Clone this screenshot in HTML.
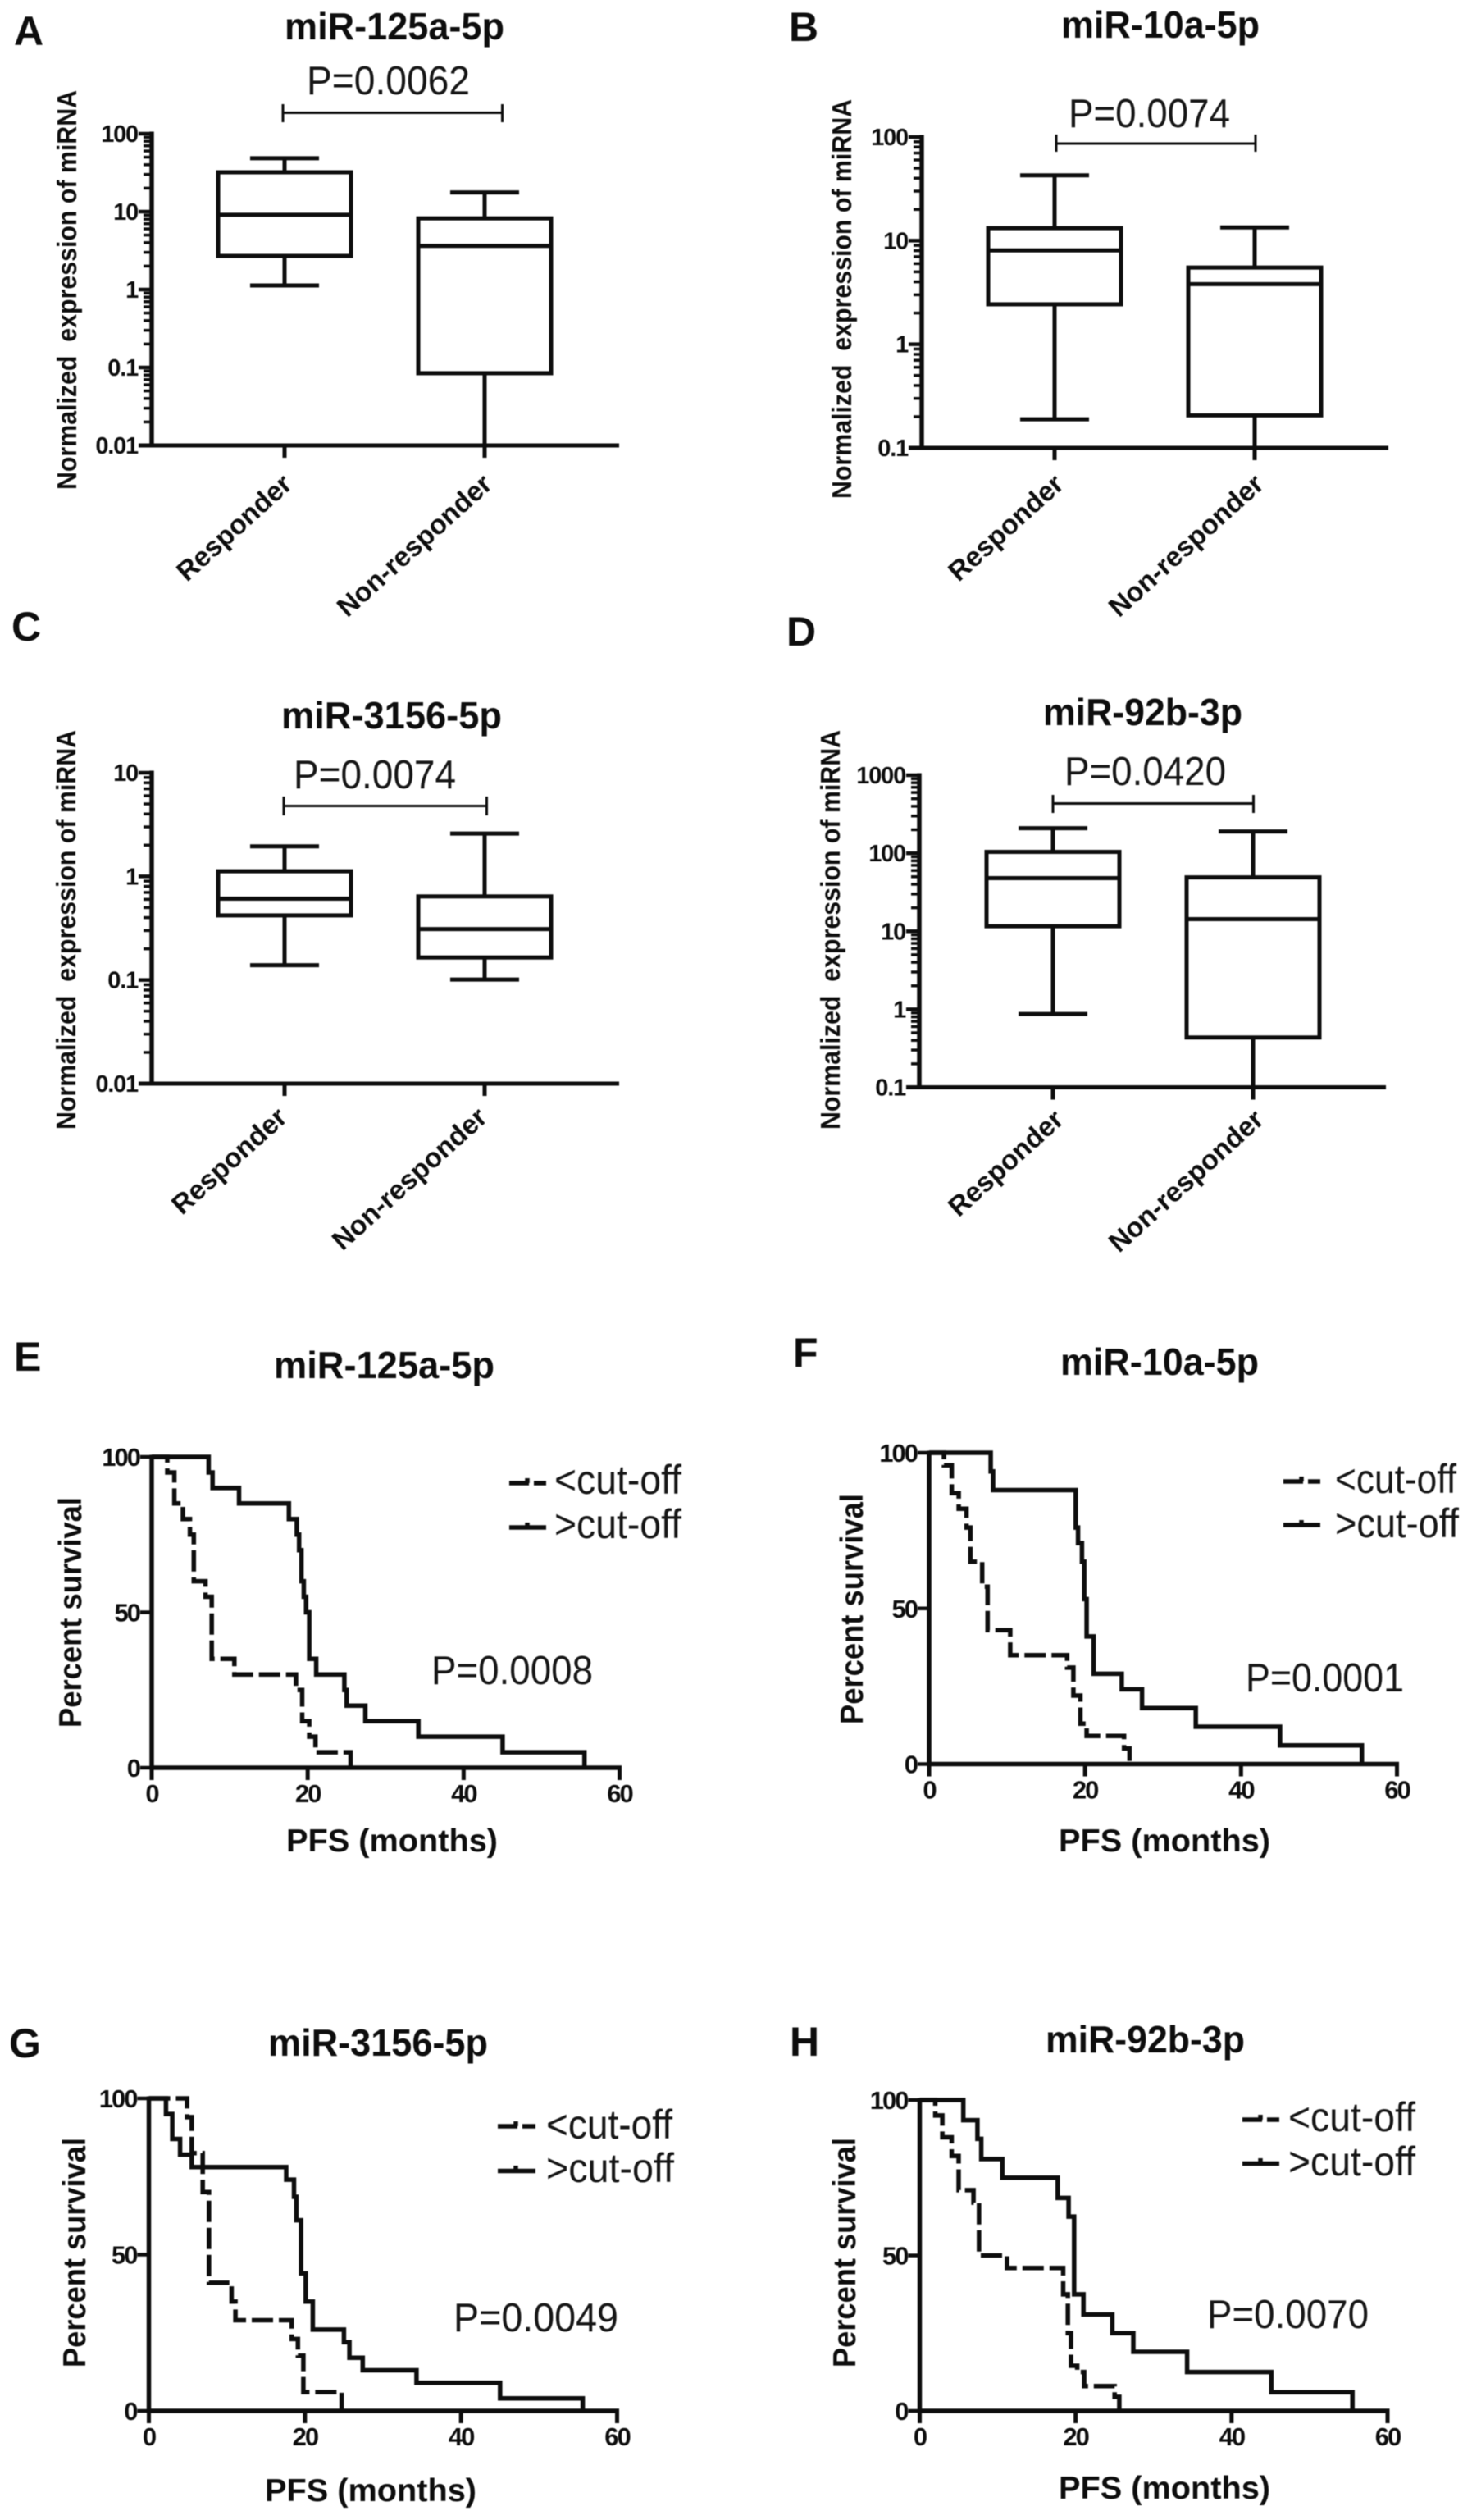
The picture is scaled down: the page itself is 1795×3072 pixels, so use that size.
<!DOCTYPE html>
<html lang="en">
<head>
<meta charset="utf-8">
<title>miRNA expression and survival panels</title>
<style>
html,body{margin:0;padding:0;background:#fff;}
svg{display:block;}
text{font-family:"Liberation Sans",sans-serif;fill:#111;}
.b{font-weight:700;}
.title{font-weight:700;font-size:46px;}
.letter{font-weight:700;font-size:50px;}
.pv{font-size:49px;fill:#151515;}
.ylab{font-weight:700;font-size:33px;}
.kmy{font-weight:700;font-size:39px;}
.xt{font-weight:700;font-size:39px;}
.leg{font-size:50px;fill:#151515;}
.ln{stroke:#111;fill:none;}
</style>
</head>
<body>
<svg id="figure" xmlns="http://www.w3.org/2000/svg" width="1795" height="3072" viewBox="0 0 1795 3072">
<defs><filter id="soft" x="0" y="0" width="100%" height="100%"><feGaussianBlur stdDeviation="0.5"/></filter></defs>
<rect width="1795" height="3072" fill="#fff"/>
<g filter="url(#soft)">

<g id="panel-a">
<text class="letter" x="17" y="55">A</text>
<text class="title" x="347" y="48" textLength="268" lengthAdjust="spacingAndGlyphs">miR-125a-5p</text>
<text class="pv" x="374" y="115" textLength="199" lengthAdjust="spacingAndGlyphs">P=0.0062</text>
<path class="ln" stroke-width="3" d="M345 127V149M345 137.5H612.5M612.5 127V149"/>
<text class="ylab" transform="translate(93,597) rotate(-90)" textLength="487" lengthAdjust="spacingAndGlyphs" xml:space="preserve">Normalized  expression of miRNA</text>
</g>

<g id="panel-b">
<text class="letter" x="962" y="50">B</text>
<text class="title" x="1294" y="46" textLength="242" lengthAdjust="spacingAndGlyphs">miR-10a-5p</text>
<text class="pv" x="1303" y="155" textLength="197" lengthAdjust="spacingAndGlyphs">P=0.0074</text>
<path class="ln" stroke-width="3" d="M1288 164V185M1288 175H1531M1531 164V185"/>
<text class="ylab" transform="translate(1038,608) rotate(-90)" textLength="487" lengthAdjust="spacingAndGlyphs" xml:space="preserve">Normalized  expression of miRNA</text>
</g>

<g id="panel-c">
<text class="letter" x="14" y="781">C</text>
<text class="title" x="343" y="888" textLength="269" lengthAdjust="spacingAndGlyphs">miR-3156-5p</text>
<text class="pv" x="358" y="961" textLength="198" lengthAdjust="spacingAndGlyphs">P=0.0074</text>
<path class="ln" stroke-width="3" d="M346 971V994M346 982.5H593.5M593.5 971V994"/>
<text class="ylab" transform="translate(92,1377) rotate(-90)" textLength="487" lengthAdjust="spacingAndGlyphs" xml:space="preserve">Normalized  expression of miRNA</text>
</g>

<g id="panel-d">
<text class="letter" x="959" y="787">D</text>
<text class="title" x="1272" y="884" textLength="243" lengthAdjust="spacingAndGlyphs">miR-92b-3p</text>
<text class="pv" x="1298" y="957" textLength="197" lengthAdjust="spacingAndGlyphs">P=0.0420</text>
<path class="ln" stroke-width="3" d="M1284 969V991M1284 979.5H1528.5M1528.5 969V991"/>
<text class="ylab" transform="translate(1024,1377) rotate(-90)" textLength="487" lengthAdjust="spacingAndGlyphs" xml:space="preserve">Normalized  expression of miRNA</text>
</g>

<g id="panel-e">
<text class="letter" x="17" y="1671">E</text>
<text class="title" x="334" y="1680" textLength="269" lengthAdjust="spacingAndGlyphs">miR-125a-5p</text>
<text class="pv" x="526" y="2053" textLength="197" lengthAdjust="spacingAndGlyphs">P=0.0008</text>
<text class="kmy" transform="translate(99,2106) rotate(-90)" textLength="281" lengthAdjust="spacingAndGlyphs">Percent survival</text>
<text class="xt" x="349" y="2257" textLength="258" lengthAdjust="spacingAndGlyphs">PFS (months)</text>
<g>
<path class="ln" stroke-width="5.5" d="M621 1808H645M651 1808H666M643 1802V1808"/>
<text class="leg" x="676" y="1821" textLength="155" lengthAdjust="spacingAndGlyphs">&lt;cut-off</text>
</g>
<g>
<path class="ln" stroke-width="5.5" d="M621 1862H666M643 1856V1862"/>
<text class="leg" x="676" y="1875" textLength="155" lengthAdjust="spacingAndGlyphs">&gt;cut-off</text>
</g>
</g>

<g id="panel-f">
<text class="letter" x="967" y="1666">F</text>
<text class="title" x="1293" y="1676" textLength="242" lengthAdjust="spacingAndGlyphs">miR-10a-5p</text>
<text class="pv" x="1519" y="2062" textLength="193" lengthAdjust="spacingAndGlyphs">P=0.0001</text>
<text class="kmy" transform="translate(1052,2102) rotate(-90)" textLength="281" lengthAdjust="spacingAndGlyphs">Percent survival</text>
<text class="xt" x="1291" y="2257" textLength="258" lengthAdjust="spacingAndGlyphs">PFS (months)</text>
<g>
<path class="ln" stroke-width="5.5" d="M1565 1806H1589M1595 1806H1610M1587 1800V1806"/>
<text class="leg" x="1628" y="1820" textLength="148" lengthAdjust="spacingAndGlyphs">&lt;cut-off</text>
</g>
<g>
<path class="ln" stroke-width="5.5" d="M1565 1859H1610M1587 1853V1859"/>
<text class="leg" x="1628" y="1874" textLength="151" lengthAdjust="spacingAndGlyphs">&gt;cut-off</text>
</g>
</g>

<g id="panel-g">
<text class="letter" x="11" y="2508">G</text>
<text class="title" x="327" y="2506" textLength="268" lengthAdjust="spacingAndGlyphs">miR-3156-5p</text>
<text class="pv" x="553" y="2842" textLength="201" lengthAdjust="spacingAndGlyphs">P=0.0049</text>
<text class="kmy" transform="translate(104,2886) rotate(-90)" textLength="280" lengthAdjust="spacingAndGlyphs">Percent survival</text>
<text class="xt" x="323" y="3049" textLength="258" lengthAdjust="spacingAndGlyphs">PFS (months)</text>
<g>
<path class="ln" stroke-width="5.5" d="M607 2592H631M637 2592H653M629 2586V2592"/>
<text class="leg" x="666" y="2607" textLength="154" lengthAdjust="spacingAndGlyphs">&lt;cut-off</text>
</g>
<g>
<path class="ln" stroke-width="5.5" d="M607 2646.5H653M629 2640V2646.5"/>
<text class="leg" x="666" y="2660" textLength="156" lengthAdjust="spacingAndGlyphs">&gt;cut-off</text>
</g>
</g>

<g id="panel-h">
<text class="letter" x="963" y="2506">H</text>
<text class="title" x="1275" y="2502" textLength="243" lengthAdjust="spacingAndGlyphs">miR-92b-3p</text>
<text class="pv" x="1472" y="2838" textLength="197" lengthAdjust="spacingAndGlyphs">P=0.0070</text>
<text class="kmy" transform="translate(1043,2886) rotate(-90)" textLength="280" lengthAdjust="spacingAndGlyphs">Percent survival</text>
<text class="xt" x="1291" y="3046" textLength="258" lengthAdjust="spacingAndGlyphs">PFS (months)</text>
<g>
<path class="ln" stroke-width="5.5" d="M1515 2584H1539M1545 2584H1560M1537 2578V2584"/>
<text class="leg" x="1571" y="2598" textLength="155" lengthAdjust="spacingAndGlyphs">&lt;cut-off</text>
</g>
<g>
<path class="ln" stroke-width="5.5" d="M1515 2637.5H1560M1537 2631V2637.5"/>
<text class="leg" x="1571" y="2652" textLength="155" lengthAdjust="spacingAndGlyphs">&gt;cut-off</text>
</g>
</g>

</g>
</svg>
<script>
// ---------- chart data ----------
const boxCategories = ['Responder', 'Non-responder'];

// Box values are [whisker low, Q1, median, Q3, whisker high]
const boxATicks = ['0.01', '0.1', '1', '10', '100'];
const boxAResponder = [1.13, 2.7, 9.1, 32, 48.5];
const boxANonResponder = [0.01, 0.0845, 3.63, 8.2, 17.6];

const boxBTicks = ['0.1', '1', '10', '100'];
const boxBResponder = [0.189, 2.43, 8.05, 13.2, 42.7];
const boxBNonResponder = [0.1, 0.206, 3.8, 5.5, 13.4];

const boxCTicks = ['0.01', '0.1', '1', '10'];
const boxCResponder = [0.139, 0.42, 0.61, 1.12, 1.95];
const boxCNonResponder = [0.101, 0.165, 0.31, 0.64, 2.59];

const boxDTicks = ['0.1', '1', '10', '100', '1000'];
const boxDResponder = [0.87, 11.6, 48, 104, 209];
const boxDNonResponder = [0.1, 0.435, 14.3, 49, 190];

const kmXTicks = [0, 20, 40, 60];
const kmYTicks = [0, 50, 100];

// Survival curves: event times (months) and survival (%) after each event
const kmEAboveTimes = [7.3, 7.8, 11.2, 17.6, 18.6, 18.9, 19.2, 19.5, 19.8, 20.2, 21.1, 24.7, 25, 27.4, 34.2, 45, 55.5];
const kmEAboveSurvival = [95, 90, 85, 80, 75, 70, 60, 55, 50, 35, 30, 25, 20, 15, 10, 5, 0];
const kmEBelowTimes = [2, 2.9, 4, 4.9, 5.4, 6.9, 7.7, 10.6, 18.5, 19.3, 20.2, 21, 25.5];
const kmEBelowSurvival = [95, 85, 80, 75, 60, 55, 35, 30, 25, 15, 10, 5, 0];

const kmFAboveTimes = [7.9, 8.2, 18.8, 19.1, 19.6, 19.9, 20.2, 21.1, 24.7, 27.3, 34.2, 45, 55.5];
const kmFAboveSurvival = [94, 88, 76, 71, 65, 53, 41, 29, 24, 18, 12, 6, 0];
const kmFBelowTimes = [1.9, 2.9, 3.8, 4.8, 5.3, 6.8, 7.5, 10.4, 17.7, 18.5, 19.4, 20.2, 25, 25.7];
const kmFBelowSurvival = [96, 87, 82, 76, 65, 57, 43, 35, 31, 22, 13, 9, 5, 0];

const kmGAboveTimes = [2.2, 3, 4, 5.5, 17.6, 18.6, 18.9, 19.5, 20.1, 21, 25, 25.7, 27.4, 34.3, 45, 55.6];
const kmGAboveSurvival = [95, 87, 82, 78, 74, 68.5, 61, 44, 35, 26, 22, 17, 13, 9, 4, 0];
const kmGBelowTimes = [4.9, 5.5, 6.9, 7.7, 10.6, 11.1, 18.3, 19.1, 19.8, 24.7];
const kmGBelowSurvival = [94, 82.5, 70, 41, 35, 29, 23, 17.7, 6, 0];

const kmHAboveTimes = [5.6, 7.4, 7.9, 10.6, 17.7, 19.1, 19.8, 21, 24.7, 27.4, 34.3, 45.1, 55.5];
const kmHAboveSurvival = [93.5, 87.5, 81, 75, 68.5, 62.5, 37.5, 31, 25, 19, 12.5, 6, 0];
const kmHBelowTimes = [2, 2.9, 4.1, 5, 6.9, 7.6, 11.2, 18.4, 19, 19.4, 20.2, 21.1, 25, 25.6];
const kmHBelowSurvival = [95, 88, 82, 71, 67, 50, 46, 37.5, 25, 14.5, 12.5, 8, 4.5, 0];

// ---------- drawing ----------
const NS = 'http://www.w3.org/2000/svg';
function mk(parent, tag, attrs, text) {
  const el = document.createElementNS(NS, tag);
  for (const k in attrs) el.setAttribute(k, attrs[k]);
  if (text !== undefined) el.textContent = text;
  parent.appendChild(el);
  return el;
}
function seg(parent, x1, y1, x2, y2, w) {
  return mk(parent, 'line', {x1: x1, y1: y1, x2: x2, y2: y2, stroke: '#111', 'stroke-width': w});
}

function drawBoxPanel(id, frame, tickLabels, responder, nonResponder) {
  const root = document.getElementById(id);
  const values = tickLabels.map(parseFloat);
  const lo = Math.log10(values[0]);
  const hi = Math.log10(values[values.length - 1]);
  const yScale = v => frame.bottom - (Math.log10(v) - lo) / (hi - lo) * (frame.bottom - frame.top);
  const xScale = i => frame.cat0 + i * frame.catStep;

  const yAxis = seg(root, frame.left, frame.top - 2.5, frame.left, frame.bottom + 2.5, 5.5);
  
  
  const xAxis = seg(root, frame.left - 16, frame.bottom, frame.right, frame.bottom, 5);
  
  

  values.forEach((v, i) => {
    const y = yScale(v);
    const major = seg(root, frame.left - 16, y, frame.left, y, 4.5);
    
    
    const label = mk(root, 'text', {x: frame.left - 17, y: y + 10, 'text-anchor': 'end', class: 'b', 'font-size': 29, 'letter-spacing': '-1.2'}, tickLabels[i]);
    
    
    if (i < values.length - 1) {
      for (let m = 2; m <= 9; m++) {
        const my = yScale(v * m);
        const minor = seg(root, frame.left - 10, my, frame.left, my, 3.5);
        
        
      }
    }
  });

  boxCategories.forEach((cat, i) => {
    const cx = xScale(i);
    const tick = seg(root, cx, frame.bottom, cx, frame.bottom + 15, 5);
    
    
    const lab = mk(root, 'text', {transform: 'translate(' + (cx + frame.labelShift) + ',' + (frame.bottom + frame.labelDrop) + ') rotate(-42)', 'text-anchor': 'end', class: 'b', 'font-size': 33.5}, cat);
    
    

    const vals = i === 0 ? responder : nonResponder;
    const yLow = yScale(vals[0]);
    const yQ1 = yScale(vals[1]);
    const yMed = yScale(vals[2]);
    const yQ3 = yScale(vals[3]);
    const yHigh = yScale(vals[4]);
    const g = mk(root, 'g', {});
    
    
    seg(g, cx, yHigh, cx, yQ3, 5);
    seg(g, cx, yQ1, cx, yLow, 5);
    seg(g, cx - 42, yHigh, cx + 42, yHigh, 5);
    seg(g, cx - 42, yLow, cx + 42, yLow, 5);
    mk(g, 'rect', {x: cx - 81, y: yQ3, width: 162, height: yQ1 - yQ3, fill: 'none', stroke: '#111', 'stroke-width': 5});
    seg(g, cx - 81, yMed, cx + 81, yMed, 5);
  });
}

function curvePath(frame, times, survival) {
  const xScale = t => frame.left + t / 60 * (frame.right - frame.left);
  const yScale = s => frame.bottom - s / 100 * (frame.bottom - frame.top);
  let d = 'M' + xScale(0) + ' ' + yScale(100);
  times.forEach((t, i) => {
    d += 'H' + xScale(t).toFixed(1) + 'V' + yScale(survival[i]).toFixed(1);
  });
  return d;
}

function drawSurvivalPanel(id, frame, aboveT, aboveS, belowT, belowS) {
  const root = document.getElementById(id);
  const xScale = t => frame.left + t / 60 * (frame.right - frame.left);
  const yScale = s => frame.bottom - s / 100 * (frame.bottom - frame.top);

  const below = mk(root, 'path', {d: curvePath(frame, belowT, belowS), fill: 'none', stroke: '#111', 'stroke-width': 5.5, 'stroke-dasharray': '26 7'});
  
  
  const above = mk(root, 'path', {d: curvePath(frame, aboveT, aboveS), fill: 'none', stroke: '#111', 'stroke-width': 5.5});
  
  

  const yAxis = seg(root, frame.left, frame.top - 2.5, frame.left, frame.bottom + 2.5, 5.5);
  
  
  const xAxis = seg(root, frame.left - 2.5, frame.bottom, frame.right + 2.5, frame.bottom, 5.5);
  
  

  kmYTicks.forEach(v => {
    const y = yScale(v);
    const tick = seg(root, frame.left - 14, y, frame.left, y, 4.5);
    
    
    const label = mk(root, 'text', {x: frame.left - 15, y: y + 11, 'text-anchor': 'end', class: 'b', 'font-size': 31, 'letter-spacing': '-2'}, String(v));
    
    
  });
  kmXTicks.forEach(v => {
    const x = xScale(v);
    const tick = seg(root, x, frame.bottom, x, frame.bottom + 15, 5);
    
    
    const label = mk(root, 'text', {x: x, y: frame.bottom + 42, 'text-anchor': 'middle', class: 'b', 'font-size': 31, 'letter-spacing': '-2'}, String(v));
    
    
  });
}

drawBoxPanel('panel-a', {left: 185, right: 755, top: 163, bottom: 543, cat0: 347, catStep: 244, labelDrop: 50, labelShift: 11}, boxATicks, boxAResponder, boxANonResponder);
drawBoxPanel('panel-b', {left: 1124, right: 1693, top: 167, bottom: 546, cat0: 1286, catStep: 244, labelDrop: 47, labelShift: 13}, boxBTicks, boxBResponder, boxBNonResponder);
drawBoxPanel('panel-c', {left: 185, right: 755, top: 942, bottom: 1321, cat0: 347, catStep: 244, labelDrop: 44, labelShift: 5}, boxCTicks, boxCResponder, boxCNonResponder);
drawBoxPanel('panel-d', {left: 1121, right: 1690, top: 945, bottom: 1325.5, cat0: 1284, catStep: 244, labelDrop: 42, labelShift: 15}, boxDTicks, boxDResponder, boxDNonResponder);

drawSurvivalPanel('panel-e', {left: 185, right: 755.5, top: 1776, bottom: 2155}, kmEAboveTimes, kmEAboveSurvival, kmEBelowTimes, kmEBelowSurvival);
drawSurvivalPanel('panel-f', {left: 1133, right: 1703.5, top: 1771, bottom: 2150.5}, kmFAboveTimes, kmFAboveSurvival, kmFBelowTimes, kmFBelowSurvival);
drawSurvivalPanel('panel-g', {left: 181.5, right: 752.5, top: 2558, bottom: 2939}, kmGAboveTimes, kmGAboveSurvival, kmGBelowTimes, kmGBelowSurvival);
drawSurvivalPanel('panel-h', {left: 1121.5, right: 1692, top: 2560, bottom: 2939}, kmHAboveTimes, kmHAboveSurvival, kmHBelowTimes, kmHBelowSurvival);
</script>
</body>
</html>
